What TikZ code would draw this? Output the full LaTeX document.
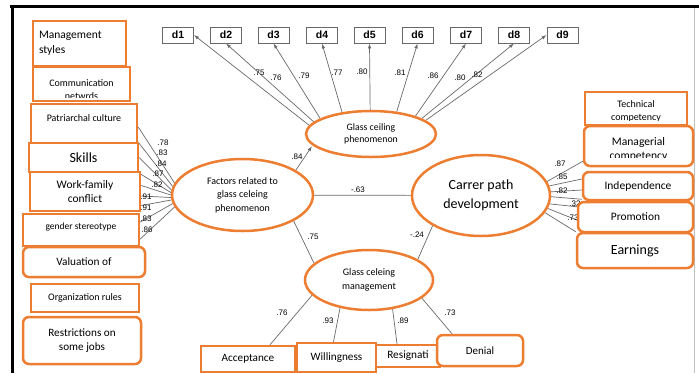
\documentclass[tikz,border=0pt]{standalone}
\usepackage{fontspec}
\setmainfont{Carlito}
\newfontfamily\arialf{Liberation Sans}
\usetikzlibrary{shapes.geometric,arrows.meta}
\definecolor{orng}{RGB}{237,125,49}
\definecolor{lgray}{RGB}{105,105,105}
\pgfdeclarelayer{bg}
\pgfsetlayers{bg,main}
\newcommand\fs[2]{\fontsize{#1}{#2}\selectfont}
\begin{document}
\begin{tikzpicture}[x=1pt,y=-1pt,
  ob/.style={draw=orng, line width=2.5pt, fill=white, inner sep=2pt, align=center},
  obr/.style={ob, rounded corners=6pt},
  ell/.style={draw=orng, line width=2.5pt, fill=white, ellipse, inner sep=0pt, align=center},
  dbx/.style={draw=lgray, line width=0.9pt, fill=white, minimum width=31pt, minimum height=16pt, inner sep=0pt, font=\arialf\bfseries\fs{10.5}{12}},
  cn/.style={draw=lgray, line width=0.7pt},
  ar/.style={cn, -{Latex[length=5pt,width=3.5pt]}},
  lb/.style={font=\arialf\fs{8}{9}, inner sep=0pt, text=black},
  tx/.style={align=center, inner sep=0pt}]
\useasboundingbox (0,0) rectangle (699,373);

% ---------- left boxes ----------
\node[ob, minimum height=45pt, text width=81pt, inner xsep=6pt, align=left, font=\fs{11.5}{15}] (ms) at (79.5,43.5) {Management\\styles};
\node[ob, minimum width=97pt, minimum height=34pt] (comm) at (81.5,84) {};
\begin{scope}
  \clip (33,67) rectangle (130,97);
  \node[tx, font=\fs{10}{13.5}] (commt) at (81.5,89.5) {Communication\\netwrds};
\end{scope}
\node[ob, minimum width=106pt, minimum height=39pt, font=\fs{10}{11}] (patr) at (84,123.5) {Patriarchal culture\\\mbox{}};
\node[ob, minimum width=109pt, minimum height=29pt, font=\fs{14}{16}] (skills) at (83.5,157.5) {Skills};
\node[ob, minimum width=110pt, minimum height=39pt, font=\fs{11.5}{14}] (wf) at (85,191.5) {Work-family\\conflict};
\node[ob, minimum width=116pt, minimum height=32pt, font=\fs{9.5}{11}] (gs) at (81,230) {gender stereotype\\[-3pt]\mbox{}};
\node[obr, minimum width=122pt, minimum height=30pt, font=\fs{11.3}{13}] (val) at (84,262) {Valuation of};
\node[ob, minimum width=108pt, minimum height=28pt, font=\fs{10}{12}] (org) at (85,298) {Organization rules};
\node[obr, minimum width=118pt, minimum height=47pt, font=\fs{11.2}{14}] (res) at (82,340.5) {Restrictions on\\some jobs};

% ---------- d boxes ----------
\node[dbx] (d1) at (178,35) {d1};
\node[dbx] (d2) at (226,35) {d2};
\node[dbx] (d3) at (273.5,35) {d3};
\node[dbx] (d4) at (322,35) {d4};
\node[dbx] (d5) at (369.5,35) {d5};
\node[dbx] (d6) at (417.5,35) {d6};
\node[dbx] (d7) at (466,35) {d7};
\node[dbx] (d8) at (514,35) {d8};
\node[dbx] (d9) at (562.5,35) {d9};

% ---------- ellipses ----------
\node[ell, minimum width=130pt, minimum height=46pt, font=\fs{9.8}{12.5}] (gcp) at (371,134) {Glass ceiling\\phenomenon};
\node[ell, minimum width=141pt, minimum height=72pt, font=\fs{10}{13.5}] (fac) at (242.5,195) {Factors related to\\glass celeing\\phenomenon};
\node[ell, minimum width=138pt, minimum height=81pt, font=\fs{14}{19}] (car) at (481,195.5) {Carrer path\\development};
\node[ell, minimum width=128pt, minimum height=60pt, font=\fs{10}{13.5}] (gcm) at (369,280) {Glass celeing\\management};

% ---------- bottom boxes ----------
\node[ob, minimum width=94pt, minimum height=26pt, font=\fs{11.2}{13}] (acc) at (248,359) {Acceptance};
\node[ob, minimum width=64pt, minimum height=22pt, font=\fs{11.3}{13}] (resi) at (408,356) {Resignati};
\node[ob, minimum width=79pt, minimum height=29pt, font=\fs{11.2}{13}] (will) at (336.5,357.5) {Willingness};
\node[obr, minimum width=86pt, minimum height=31pt, font=\fs{11}{13}] (den) at (480,350.5) {Denial};

% ---------- right boxes ----------
\node[ob, minimum width=102pt, minimum height=33pt] (tech) at (636,108.5) {};
\begin{scope}
  \clip (585,92) rectangle (687,120);
  \node[tx, font=\fs{10}{13}] (techt) at (636,111.5) {Technical\\competency};
\end{scope}
\node[obr, minimum width=109pt, minimum height=40pt] (man) at (638.5,146) {};
\begin{scope}
  \clip (584,126) rectangle (693,157);
  \node[tx, font=\fs{11.6}{14}] (mant) at (638.5,149) {Managerial\\competency};
\end{scope}
\node[obr, minimum width=110pt, minimum height=28pt, font=\fs{11.5}{13}] (ind) at (638,186) {Independence};
\node[obr, minimum width=115pt, minimum height=30pt, font=\fs{11.4}{13}] (pro) at (635.5,217) {Promotion};
\node[obr, minimum width=116pt, minimum height=35pt, font=\fs{14}{16}] (earn) at (635,250.5) {Earnings};

% ---------- connectors and frame (behind) ----------
\begin{pgfonlayer}{bg}
  \draw[black, line width=3pt] (10,6) -- (699,6);
  \draw[black, line width=3pt] (12,4.5) -- (12,373);
  \draw[black!25, line width=1pt] (694,8) -- (694,373);

  % glass ceiling phenomenon -> d boxes
  \draw[ar] (gcp.172) -- (d1.east);
  \draw[ar] (gcp.168) -- (d2.south);
  \draw[ar] (gcp.163) -- (d3.south);
  \draw[ar] (gcp.143) -- (d4.south);
  \draw[ar] (gcp.92) -- (d5.south);
  \draw[ar] (gcp.41) -- (d6.south);
  \draw[ar] (gcp.22) -- (d7.south);
  \draw[ar] (gcp.17) -- (d8.south);
  \draw[ar] (gcp.14) -- (d9.west);
  \node[lb] (l1) at (259,73) {.75};
  \node[lb] (l2) at (276,78) {.76};
  \node[lb] (l3) at (304,76) {.79};
  \node[lb] (l4) at (337,73) {.77};
  \node[lb] (l5) at (362,72) {.80};
  \node[lb] (l6) at (400,73) {.81};
  \node[lb] (l7) at (433,76) {.86};
  \node[lb] (l8) at (460,78) {.80};
  \node[lb] (l9) at (477,75) {.82};

  % structural paths
  \draw[ar, shorten >=1pt] (fac.25) -- (gcp.191);
  \node[lb] (l10) at (297,157) {.84};
  \draw[cn] (fac) -- (car);
  \node[lb] (l11) at (358,190) {-.63};
  \draw[cn] (fac.-27) -- (gcm.163);
  \node[lb] (l12) at (313,237) {.75};
  \draw[cn] (car.212) -- (gcm.23);
  \node[lb] (l13) at (417,235) {-.24};

  % management -> bottom boxes
  \draw[cn] (gcm.195) -- ([xshift=22pt]acc.north);
  \draw[cn] (gcm.224) -- ([xshift=-3pt]will.north);
  \draw[cn] (gcm.-51) -- ([xshift=-11pt]resi.north);
  \draw[cn] (gcm.-19) -- ([xshift=-28pt]den.north);
  \node[lb] (l14) at (282,313) {.76};
  \node[lb] (l15) at (328,321) {.93};
  \node[lb] (l16) at (403,321) {.89};
  \node[lb] (l17) at (450,313) {.73};

  % factors -> left boxes
  \draw[cn] (fac.170) -- ([yshift=-3.5pt]patr.east);
  \draw[cn] (fac.173) -- ([yshift=2pt]patr.south east);
  \draw[cn] (fac.176) -- (skills.east);
  \draw[cn] (fac.178) -- (skills.south east);
  \draw[cn] (fac.180) -- ([yshift=6pt]wf.east);
  \draw[cn] (fac.182) -- ([yshift=-4.5pt]wf.east);
  \draw[cn] (fac.184) -- ([yshift=-14pt]wf.east);
  \draw[cn] (fac.187) -- ([yshift=8pt]gs.east);
  \draw[cn] (fac.190) -- ([yshift=-9pt]gs.east);
  \node[lb] (l18) at (163,143) {.78};
  \node[lb] (l19) at (162,153) {.83};
  \node[lb] (l20) at (161,164) {.84};
  \node[lb] (l21) at (158,174) {.87};
  \node[lb] (l22) at (157,185) {.82};
  \node[lb] (l23) at (146,197) {.91};
  \node[lb] (l24) at (146,208) {.91};
  \node[lb] (l25) at (146,219) {.83};
  \node[lb] (l26) at (147,230) {.86};

  % career -> right boxes
  \draw[cn] (car.12) -- ([yshift=6pt]man.south west);
  \draw[cn] (car.8) -- ([yshift=7pt]ind.west);
  \draw[cn] (car.3) -- ([yshift=-4pt]ind.west);
  \draw[cn] (car.-1) -- ([yshift=2pt]ind.south west);
  \draw[cn] (car.-7) -- ([yshift=-6pt]pro.north west);
  \draw[cn] (car.-11) -- ([yshift=-3pt]pro.west);
  \draw[cn] (car.-15) -- (earn.north west);
  \node[lb] (l27) at (560,164) {.87};
  \node[lb] (l28) at (562,177) {.85};
  \node[lb] (l29) at (562,191) {.82};
  \node[lb] (l30) at (575,204) {.32};
  \node[lb] (l31) at (573,218) {.73};
\end{pgfonlayer}
\end{tikzpicture}
\end{document}
